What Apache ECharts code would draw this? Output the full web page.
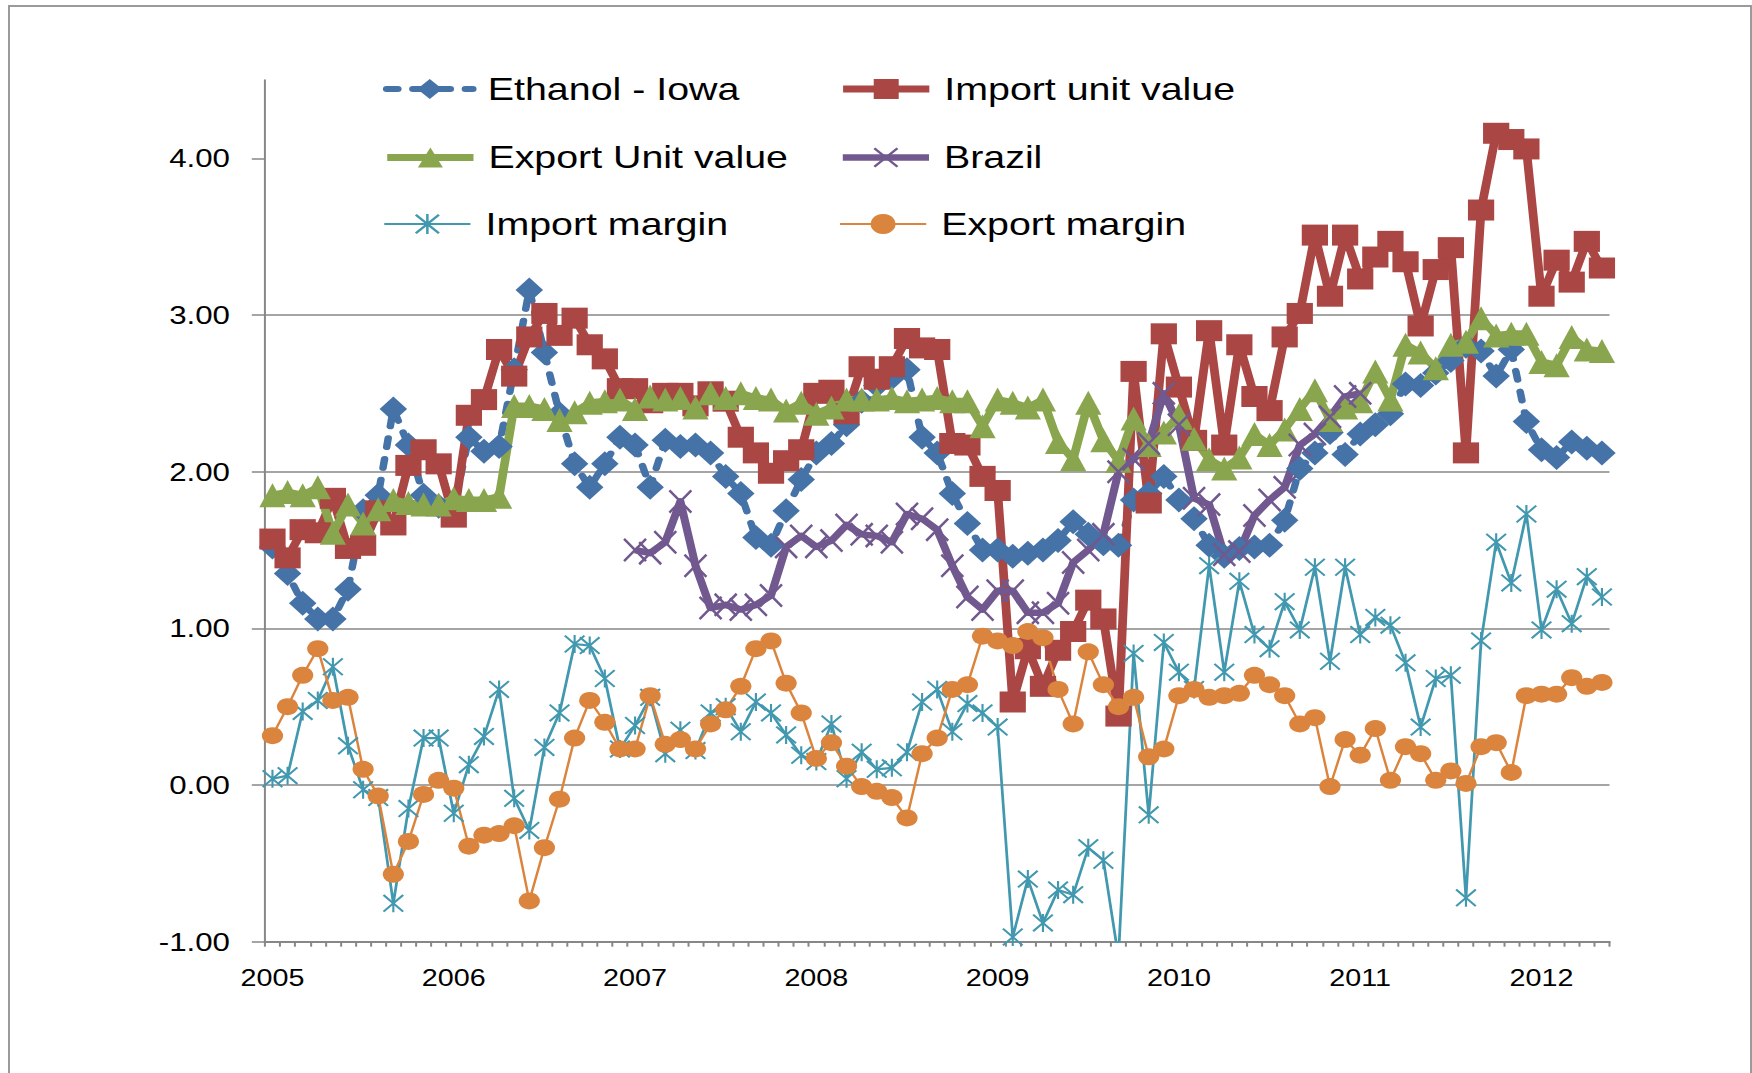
<!DOCTYPE html>
<html>
<head>
<meta charset="utf-8">
<script src="https://cdn.jsdelivr.net/npm/echarts@6/dist/echarts.min.js"></script>
<style>
html,body{margin:0;padding:0;background:#fff;overflow:hidden;width:1752px;height:1073px}
#frame{position:absolute;left:8px;top:5px;width:1744px;height:1100px;border:2px solid #9a9a9a;box-sizing:border-box}
#chart{position:absolute;left:0;top:0;width:1402px;height:1073px;transform:scaleX(1.2496);transform-origin:0 0}
</style>
</head>
<body>
<div id="frame"></div>
<div id="chart"></div>
<script>
// ---------- data ----------
const years = ['2005','2006','2007','2008','2009','2010','2011','2012'];
const yTicks = [-1, 0, 1, 2, 3, 4];
const seriesNames = ['Ethanol - Iowa','Import unit value','Export Unit value','Brazil','Import margin','Export margin'];

const ethanolIowa = [1.52,1.35,1.16,1.06,1.06,1.25,1.75,1.85,2.40,2.17,1.85,1.78,1.77,2.22,2.13,2.16,2.65,3.16,2.76,2.37,2.05,1.90,2.05,2.22,2.17,1.90,2.20,2.16,2.17,2.12,1.97,1.86,1.58,1.53,1.75,1.95,2.12,2.18,2.30,2.45,2.55,2.60,2.65,2.22,2.12,1.86,1.67,1.50,1.50,1.46,1.48,1.50,1.56,1.68,1.60,1.54,1.53,1.82,1.86,1.97,1.82,1.70,1.53,1.46,1.51,1.52,1.53,1.69,2.02,2.12,2.25,2.11,2.24,2.30,2.37,2.56,2.55,2.63,2.71,2.80,2.77,2.61,2.78,2.32,2.14,2.09,2.19,2.15,2.12];

const importUnitValue = [1.57,1.45,1.63,1.61,1.83,1.51,1.53,1.75,1.66,2.04,2.14,2.05,1.71,2.36,2.46,2.78,2.61,2.86,3.01,2.87,2.98,2.81,2.72,2.53,2.53,2.44,2.50,2.50,2.42,2.51,2.45,2.22,2.12,1.99,2.07,2.14,2.50,2.52,2.37,2.67,2.59,2.67,2.85,2.79,2.78,2.18,2.17,1.97,1.88,0.53,0.87,0.63,0.86,0.98,1.18,1.06,0.44,2.64,1.80,2.88,2.54,2.20,2.90,2.17,2.81,2.48,2.39,2.86,3.01,3.51,3.12,3.51,3.23,3.37,3.47,3.34,2.93,3.29,3.43,2.12,3.67,4.16,4.12,4.06,3.12,3.35,3.21,3.47,3.30];

const exportUnitValue = [1.85,1.87,1.85,1.90,1.61,1.79,1.67,1.76,1.82,1.80,1.79,1.79,1.83,1.82,1.82,1.84,2.42,2.42,2.40,2.33,2.38,2.44,2.45,2.46,2.40,2.48,2.46,2.47,2.41,2.50,2.47,2.50,2.47,2.46,2.39,2.44,2.37,2.41,2.46,2.46,2.46,2.47,2.45,2.46,2.47,2.45,2.45,2.29,2.46,2.44,2.41,2.46,2.19,2.08,2.44,2.20,2.07,2.34,2.17,2.25,2.36,2.21,2.08,2.02,2.09,2.24,2.17,2.27,2.40,2.52,2.33,2.41,2.45,2.64,2.46,2.81,2.76,2.66,2.81,2.83,2.98,2.87,2.88,2.88,2.70,2.68,2.86,2.78,2.77];

const brazil = [null,null,null,null,null,null,null,null,null,null,null,null,null,null,null,null,null,null,null,null,null,null,null,null,
  1.50,1.48,1.55,1.81,1.40,1.13,1.15,1.12,1.15,1.21,1.52,1.59,1.52,1.56,1.66,1.60,1.59,1.55,1.73,1.70,1.63,1.40,1.20,1.12,1.24,1.24,1.10,1.10,1.16,1.42,1.50,1.60,2.00,2.08,2.18,2.50,2.30,1.83,1.79,1.47,1.49,1.72,1.82,1.90,2.17,2.24,2.35,2.48,2.50,
  null,null,null,null,null,null,null,null,null,null,null,null,null,null,null,null];

const importMargin = [0.04,0.06,0.47,0.54,0.755,0.25,-0.03,-0.08,-0.755,-0.15,0.30,0.30,-0.18,0.13,0.31,0.61,-0.085,-0.29,0.24,0.46,0.90,0.89,0.68,0.23,0.38,0.56,0.20,0.35,0.22,0.46,0.50,0.34,0.53,0.46,0.32,0.19,0.15,0.39,0.04,0.21,0.10,0.11,0.21,0.53,0.61,0.34,0.52,0.46,0.37,-0.97,-0.60,-0.88,-0.67,-0.70,-0.40,-0.48,-1.10,0.84,-0.19,0.91,0.72,0.61,1.40,0.72,1.30,0.96,0.87,1.17,0.99,1.39,0.79,1.39,0.96,1.07,1.02,0.78,0.37,0.68,0.70,-0.72,0.92,1.55,1.29,1.73,0.99,1.25,1.03,1.33,1.20];

const exportMargin = [0.315,0.50,0.70,0.87,0.54,0.56,0.10,-0.07,-0.57,-0.36,-0.06,0.03,-0.02,-0.39,-0.32,-0.31,-0.26,-0.74,-0.40,-0.09,0.30,0.54,0.40,0.23,0.23,0.57,0.26,0.29,0.23,0.39,0.48,0.63,0.87,0.92,0.65,0.46,0.17,0.27,0.12,-0.01,-0.04,-0.08,-0.21,0.20,0.30,0.61,0.64,0.95,0.92,0.89,0.98,0.94,0.61,0.39,0.85,0.64,0.50,0.56,0.18,0.23,0.57,0.61,0.56,0.57,0.585,0.70,0.64,0.57,0.39,0.43,-0.01,0.29,0.19,0.36,0.03,0.245,0.20,0.03,0.09,0.01,0.245,0.27,0.08,0.57,0.58,0.58,0.685,0.63,0.655];

// monthly categories Jan 2005 .. May 2012
const nPoints = ethanolIowa.length;
const categories = [];
years.forEach(function (y) {
  for (let m = 1; m <= 12; m++) {
    if (categories.length < nPoints) categories.push(y + '-' + (m < 10 ? '0' + m : '' + m));
  }
});

// ---------- styling ----------
const FONT = 'Liberation Sans';
const AXIS = '#878787';
const C = { eth:'#4572A7', imp:'#AA4643', exp:'#89A54E', bra:'#71588F', imm:'#4198AF', exm:'#DB843D' };
const X_MARK = 'path://M0,1.5L1.5,0L20,18.5L18.5,20ZM18.5,0L20,1.5L1.5,20L0,18.5Z';
const STAR_MARK = 'path://M0,1.5L1.5,0L20,18.5L18.5,20ZM18.5,0L20,1.5L1.5,20L0,18.5ZM9,0L11,0L11,20L9,20Z';

function lineSeries(name, data, color, width, symbol, size, dash) {
  return {
    name: name, type: 'line', data: data,
    showSymbol: true, showAllSymbol: true, symbol: symbol, symbolSize: size,
    connectNulls: false, clip: true, smooth: false,
    lineStyle: { color: color, width: width, type: dash || 'solid', cap: dash ? 'round' : 'butt', join: 'round' },
    itemStyle: { color: color },
    emphasis: { disabled: true }
  };
}

function leg(name, left, rowCenter, lw) {
  return {
    data: [name], left: left, top: rowCenter - 18, padding: 0,
    itemWidth: 69, itemHeight: 25, selectedMode: false,
    textStyle: { fontFamily: FONT, fontSize: 31.5, color: '#000', lineHeight: 36, padding: [0, 0, 0, 7] },
    lineStyle: { width: lw }
  };
}

const chart = echarts.init(document.getElementById('chart'), null, { renderer: 'svg' });
chart.setOption({
  animation: false,
  backgroundColor: 'transparent',
  textStyle: { fontFamily: FONT },
  grid: { left: 212, right: 114, top: 80, bottom: 131.3, containLabel: false, outerBoundsMode: 'none' },
  legend: [
    leg(seriesNames[0], 306.4, 89, 6),
    leg(seriesNames[1], 671.2, 89, 7),
    leg(seriesNames[2], 306.4, 157.5, 7),
    leg(seriesNames[3], 671.2, 157.5, 6.5),
    leg(seriesNames[4], 306.4, 224, 2.2),
    leg(seriesNames[5], 671.2, 224, 2)
  ],
  xAxis: {
    type: 'category', data: categories, boundaryGap: true,
    axisLine: { show: true, onZero: false, lineStyle: { color: AXIS, width: 2 } },
    axisTick: { show: true, interval: 0, alignWithLabel: false, inside: false, length: 5, lineStyle: { color: AXIS, width: 1.6 } },
    axisLabel: { interval: 11, formatter: function (v) { return v.slice(0, 4); }, margin: 25, fontSize: 23, color: '#000', fontFamily: FONT },
    splitLine: { show: false }
  },
  yAxis: {
    type: 'value', min: -1, max: 4.5, interval: 1,
    axisLine: { show: true, lineStyle: { color: AXIS, width: 1.6 } },
    axisTick: { show: true, length: 10.5, customValues: yTicks, lineStyle: { color: AXIS, width: 1.5 } },
    axisLabel: {
      customValues: yTicks, margin: 28, fontSize: 25, color: '#000', fontFamily: FONT,
      formatter: function (v) { return Math.abs(v - Math.round(v)) < 1e-9 ? v.toFixed(2) : ''; }
    },
    splitLine: { show: true, showMaxLine: false, lineStyle: { color: AXIS, width: 1.5 } }
  },
  series: [
    lineSeries(seriesNames[0], ethanolIowa, C.eth, 6, 'diamond', [22, 25], [9, 12]),
    lineSeries(seriesNames[1], importUnitValue, C.imp, 7, 'rect', [21, 21]),
    lineSeries(seriesNames[2], exportUnitValue, C.exp, 7, 'triangle', [21, 24]),
    lineSeries(seriesNames[3], brazil, C.bra, 6.5, X_MARK, [19, 24]),
    lineSeries(seriesNames[4], importMargin, C.imm, 2.2, STAR_MARK, [17, 18]),
    lineSeries(seriesNames[5], exportMargin, C.exm, 2, 'circle', [17, 17])
  ]
});
</script>
</body>
</html>
